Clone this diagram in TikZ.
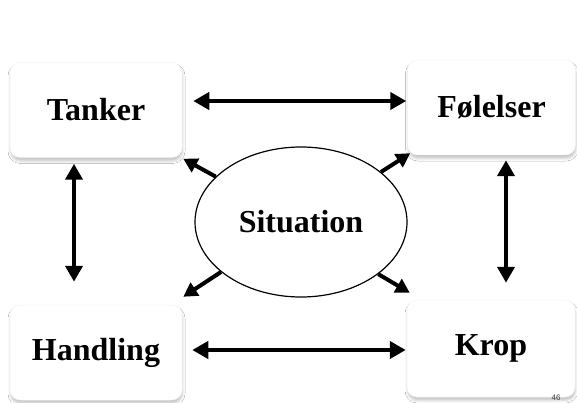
\documentclass[tikz,border=0pt]{standalone}
\usepackage{fontspec}
\setmainfont{Liberation Serif}
\newfontfamily\numfont{Liberation Sans}
\usetikzlibrary{arrows.meta,shapes.geometric,shadows.blur}
\tikzset{
  card/.style={draw=black!5, line width=0.5pt, fill=white, rounded corners=10pt,
    blur shadow={shadow xshift=0.5pt, shadow yshift=-3.5pt, shadow blur radius=2.5pt, shadow opacity=22},
    minimum width=172pt, minimum height=95pt, inner sep=0pt,
    font=\fontsize{32}{34}\selectfont\bfseries},
  dbl/.style={line width=4pt, {Triangle[length=16pt,width=17pt]}-{Triangle[length=16pt,width=17pt]}},
  sgl/.style={line width=4pt, -{Triangle[length=14pt,width=15pt]}},
}
\begin{document}
\begin{tikzpicture}[x=1pt,y=-1pt]
\useasboundingbox (0,0) rectangle (577,403);
\fill[white] (0,0) rectangle (577,403);
\node[card] (tanker) at (96,110) {Tanker};
\node[card, minimum width=168pt] (folelser) at (491.5,107.5) {Følelser};
\node[card] (handling) at (96,352.5) {Handling};
\node[card, minimum width=168pt, minimum height=97pt] (krop) at (491,348.5) {Krop};
\node[ellipse, draw, line width=1.2pt, fill=white, minimum width=212pt, minimum height=150pt,
  inner sep=0pt, font=\fontsize{32}{34}\selectfont\bfseries] (sit) at (301,222) {Situation};
\node[font=\numfont\fontsize{8}{9}\selectfont, text=black!75] (num) at (556,397.5) {46};
% double arrows between boxes
\draw[dbl] ([xshift=11pt,yshift=9pt]tanker.east) -- ([xshift=-1pt,yshift=6.5pt]folelser.west);
\draw[dbl] ([xshift=10pt,yshift=2.5pt]handling.east) -- ([xshift=-1pt,yshift=-1.5pt]krop.west);
\draw[dbl] ([xshift=-22pt,yshift=-6pt]tanker.south) -- ([xshift=-22pt,yshift=23pt]handling.north);
\draw[dbl] ([xshift=14.5pt,yshift=-5pt]folelser.south) -- ([xshift=15pt,yshift=17pt]krop.north);
% arrows from situation
\draw[sgl] (sit.152) -- ([xshift=1pt,yshift=-1pt]tanker.south east);
\draw[sgl] (sit.32) -- ([xshift=3pt,yshift=2pt]folelser.south west);
\draw[sgl] (sit.212) -- ([xshift=1pt,yshift=8pt]handling.north east);
\draw[sgl] (sit.326) -- ([xshift=3pt,yshift=7pt]krop.north west);
\end{tikzpicture}
\end{document}
